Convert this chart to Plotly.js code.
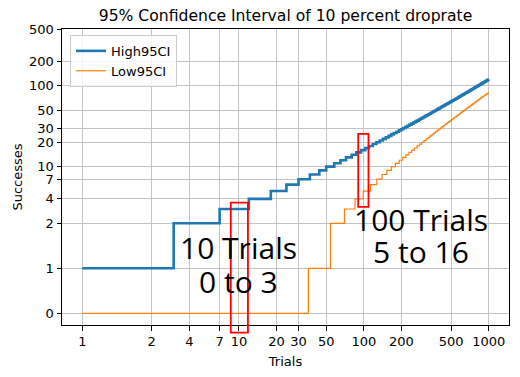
<!DOCTYPE html>
<html>
<head>
<meta charset="utf-8">
<script src="https://cdn.plot.ly/plotly-3.0.1.min.js"></script>
<style>html,body{margin:0;padding:0;background:#fff;}#chart{width:520px;height:377px;}</style>
</head>
<body>
<div id="chart"></div>
<script>
// Trials at which the upper bound steps up, and the value it takes from there on
const highTrials = [1,3,7,12,18,24,30,37,44,50,58,65,72,80,87,95,103,110,118,126,134,142,150,158,166,174,183,191,199,207,216,224,232,241,249,258,266,275,283,292,300,309,317,326,335,343,352,360,369,378,387,395,404,413,421,430,439,448,456,465,474,483,492,501,509,518,527,536,545,554,563,572,580,589,598,607,616,625,634,643,652,661,670,679,688,697,706,715,724,733,742,751,760,769,778,787,796,805,814,823,832,842,851,860,869,878,887,896,905,914,923,933,942,951,960,969,978,987,996,1000];
const highSuccesses = [1,2,3,4,5,6,7,8,9,10,11,12,13,14,15,16,17,18,19,20,21,22,23,24,25,26,27,28,29,30,31,32,33,34,35,36,37,38,39,40,41,42,43,44,45,46,47,48,49,50,51,52,53,54,55,56,57,58,59,60,61,62,63,64,65,66,67,68,69,70,71,72,73,74,75,76,77,78,79,80,81,82,83,84,85,86,87,88,89,90,91,92,93,94,95,96,97,98,99,100,101,102,103,104,105,106,107,108,109,110,111,112,113,114,115,116,117,118,119,119];
// Trials at which the lower bound steps up
const lowTrials = [1,36,54,70,85,99,113,127,140,153,166,179,192,205,217,230,242,254,267,279,291,303,315,327,339,351,363,374,386,398,410,421,433,445,456,468,479,491,502,514,525,537,548,560,571,582,594,605,617,628,639,650,662,673,684,696,707,718,729,741,752,763,774,785,796,808,819,830,841,852,863,874,885,897,908,919,930,941,952,963,974,985,996,1000];
const lowSuccesses = [0,1,2,3,4,5,6,7,8,9,10,11,12,13,14,15,16,17,18,19,20,21,22,23,24,25,26,27,28,29,30,31,32,33,34,35,36,37,38,39,40,41,42,43,44,45,46,47,48,49,50,51,52,53,54,55,56,57,58,59,60,61,62,63,64,65,66,67,68,69,70,71,72,73,74,75,76,77,78,79,80,81,82,82];

const seriesNames = ['High95CI', 'Low95CI'];
const xTickValues = [1,2,4,7,10,20,30,50,100,200,500,1000];
const yTickValues = [0,1,2,4,7,10,20,30,50,100,200,500];
const titleText = '95% Confidence Interval of 10 percent droprate';
const xLabel = 'Trials';
const yLabel = 'Successes';
const noteA = ['10 Trials', '0 to 3'];
const noteB = ['100 Trials', '5 to 16'];

// symmetric-log transform (linear below 2, log above), as in the original axes
const LIN = 2, LSCALE = 1 / (1 - 1 / 10);
function T(v) {
  const a = Math.abs(v);
  if (a <= LIN) return v * LSCALE;
  return Math.sign(v) * LIN * (LSCALE + Math.log10(a / LIN));
}

const xr = (function(){ const a=T(1), b=T(1000), m=(b-a)*0.05; return [a-m, b+m]; })();
const yr = [-0.05 * T(119), T(500)];

function yPaper(v){ return (T(v) - yr[0]) / (yr[1] - yr[0]); }

const font = 'DejaVu Sans, sans-serif';
const bigFont = {family: 'Open Sans, sans-serif', size: 30, color: '#000'};

const traces = [
  {x: highTrials.map(T), y: highSuccesses.map(T), name: seriesNames[0], mode: 'lines',
   line: {shape: 'hv', color: '#1f77b4', width: 2.6}, hoverinfo: 'skip'},
  {x: lowTrials.map(T), y: lowSuccesses.map(T), name: seriesNames[1], mode: 'lines',
   line: {shape: 'hv', color: '#ff7f0e', width: 1.2}, hoverinfo: 'skip'}
];

const axisCommon = {
  showline: true, linecolor: '#000', linewidth: 1, mirror: true,
  ticks: 'outside', ticklen: 4.5, tickwidth: 1, tickcolor: '#000',
  showgrid: true, gridcolor: '#c4c4c4', gridwidth: 1, zeroline: false,
  tickfont: {family: font, size: 13, color: '#000'}
};

const layout = {
  width: 520, height: 377,
  margin: {l: 62, r: 11, t: 29, b: 52, pad: 0},
  paper_bgcolor: '#fff', plot_bgcolor: '#fff',
  font: {family: font, size: 13, color: '#000'},
  title: {text: titleText, font: {family: font, size: 15.6, color: '#000'},
          x: 0.5, xref: 'paper', xanchor: 'center', y: 1 - 16/377, yref: 'container', yanchor: 'middle'},
  xaxis: Object.assign({}, axisCommon, {
    range: xr, tickmode: 'array', tickvals: xTickValues.map(T), ticktext: xTickValues.map(String),
    title: {text: xLabel, font: {family: font, size: 13, color: '#000'}, standoff: 8}
  }),
  yaxis: Object.assign({}, axisCommon, {
    range: yr, tickmode: 'array', tickvals: yTickValues.map(T), ticktext: yTickValues.map(String),
    title: {text: yLabel, font: {family: font, size: 13, color: '#000'}, standoff: 3}
  }),
  showlegend: true,
  legend: {x: 0.018, y: 0.98, xanchor: 'left', yanchor: 'top',
           bgcolor: 'rgba(255,255,255,0.8)', bordercolor: '#cccccc', borderwidth: 1,
           font: {family: font, size: 13, color: '#000'}, itemwidth: 30, tracegroupgap: 0},
  shapes: [
    {type: 'rect', xref: 'x', yref: 'paper', x0: T(8.6), x1: T(11.8), y0: yPaper(-0.43), y1: yPaper(3.6),
     line: {color: '#ff0000', width: 1.8}, fillcolor: 'rgba(0,0,0,0)', layer: 'above'},
    {type: 'rect', xref: 'x', yref: 'paper', x0: T(90.2), x1: T(109), y0: yPaper(3.19), y1: yPaper(25.4),
     line: {color: '#ff0000', width: 1.8}, fillcolor: 'rgba(0,0,0,0)', layer: 'above'}
  ],
  annotations: [
    {x: T(9.94), y: T(1.46), xref: 'x', yref: 'y', text: noteA[0], showarrow: false, font: bigFont, xanchor: 'center', yanchor: 'middle'},
    {x: T(9.94), y: T(0.711), xref: 'x', yref: 'y', text: noteA[1], showarrow: false, font: bigFont, xanchor: 'center', yanchor: 'middle'},
    {x: T(289), y: T(2.22), xref: 'x', yref: 'y', text: noteB[0], showarrow: false, font: bigFont, xanchor: 'center', yanchor: 'middle'},
    {x: T(289), y: T(1.378), xref: 'x', yref: 'y', text: noteB[1], showarrow: false, font: bigFont, xanchor: 'center', yanchor: 'middle'}
  ]
};

Plotly.newPlot('chart', traces, layout, {staticPlot: true, displayModeBar: false});
</script>
</body>
</html>
